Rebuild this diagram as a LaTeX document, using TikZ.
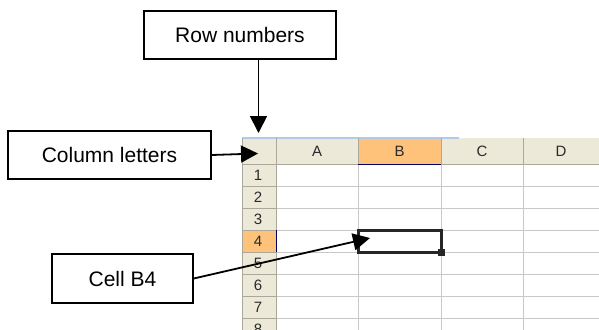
\documentclass[tikz,border=0pt]{standalone}
\usepackage{fontspec}
\setmainfont{Liberation Sans}
\usetikzlibrary{arrows.meta}
\definecolor{hdrbg}{HTML}{ECE9D8}
\definecolor{hdrsel}{HTML}{FFC27A}
\definecolor{hdrline}{HTML}{ACA899}
\definecolor{gridc}{HTML}{C8C8C8}
\definecolor{hdrtxt}{HTML}{2A2A2A}
\definecolor{topblue}{HTML}{B4C8E8}
\tikzset{
  label box/.style={draw=black, line width=1.5pt, fill=white, inner sep=0pt,
    font=\fontsize{21}{25}\selectfont, text=black},
  pointer/.style={line width=1.8pt, draw=black,
    -{Triangle[length=17pt, width=17pt]}},
  hdr text/.style={font=\fontsize{15}{17}\selectfont, text=hdrtxt, inner sep=0pt},
}
\begin{document}
\begin{tikzpicture}[x=1pt, y=-1pt]
\useasboundingbox (0,0) rectangle (599,329);
% ---- spreadsheet ----
\begin{scope}
\clip (0,0) rectangle (599,329);
% header backgrounds
\fill[hdrbg] (242,138) rectangle (599,164);
\fill[hdrbg] (242,164) rectangle (276,340);
\fill[hdrsel] (358,138) rectangle (441,164);
\fill[hdrsel] (242,230) rectangle (276,252);
\fill[white] (276,164) rectangle (599,340);
% top blue line
\draw[topblue, line width=1.2pt] (242,138) -- (459,138);
% grid lines in cells
\foreach \y in {186,208,230,252,274,296,318} \draw[gridc, line width=0.9pt] (276,\y) -- (599,\y);
\foreach \x in {358,441,523} \draw[gridc, line width=0.9pt] (\x,164) -- (\x,340);
% header separators
\foreach \x in {276,358,441,523} \draw[hdrline, line width=1pt] (\x,138) -- (\x,164);
\draw[hdrline, line width=1pt] (242,164) -- (599,164);
\foreach \y in {186,208,230,252,274,296,318} \draw[hdrline, line width=1pt] (242,\y) -- (276,\y);
\draw[hdrline, line width=1pt] (276,138) -- (276,340);
\draw[hdrline, line width=1pt] (242,138) -- (242,340);
% selected header accents
\draw[black!60!blue, line width=0.8pt] (358,164) -- (441,164);
\draw[black!60!blue, line width=0.8pt] (276,230) -- (276,252);
% header letters
\node[hdr text] (hA) at (317,151) {A};
\node[hdr text] (hB) at (399.5,151) {B};
\node[hdr text] (hC) at (482,151) {C};
\node[hdr text] (hD) at (561,151) {D};
% row numbers
\node[hdr text] (r1) at (258,175) {1};
\node[hdr text] (r2) at (258,197) {2};
\node[hdr text] (r3) at (258,219) {3};
\node[hdr text] (r4) at (258,241) {4};
\node[hdr text] (r5) at (258,263) {5};
\node[hdr text] (r6) at (258,285) {6};
\node[hdr text] (r7) at (258,307) {7};
\node[hdr text] (r8) at (258,329) {8};
% selected cell B4
\draw[black!85, line width=3pt] (358,230) rectangle (441,252);
\fill[black!85] (438,249) rectangle (445,256);
\end{scope}
% ---- labels ----
\node[label box, minimum width=192pt, minimum height=48pt] (rownum) at (240,35) {Row numbers};
\node[label box, minimum width=203pt, minimum height=48pt] (collet) at (109.5,155) {Column letters};
\node[label box, minimum width=141pt, minimum height=49pt] (cellb4) at (122.5,278.5) {Cell B4};
\coordinate (rowtip) at (258.5,133);
\coordinate (coltip) at (258,153.5);
\coordinate (celltip) at (370,238);
\draw[pointer] (rowtip |- rownum.south) -- (rowtip);
\draw[pointer] (collet.east) -- (coltip);
\draw[pointer] (cellb4.east) -- (celltip);
\end{tikzpicture}
\end{document}
